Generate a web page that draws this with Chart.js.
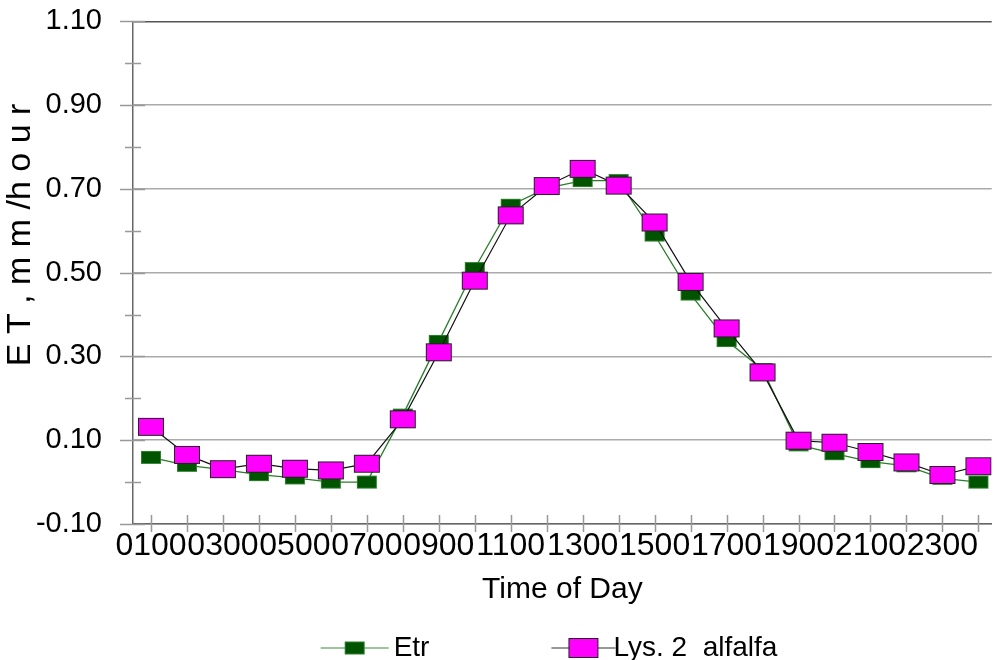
<!DOCTYPE html>
<html>
<head>
<meta charset="utf-8">
<script src="https://cdn.jsdelivr.net/npm/chart.js@4/dist/chart.umd.min.js"></script>
<style>
  html, body { margin: 0; padding: 0; background: #fff; }
  #wrap { width: 997px; height: 660px; }
</style>
</head>
<body>
<div id="wrap"><canvas id="grafico" width="997" height="660"></canvas></div>
<script>
// hours of the day, as printed on the x axis
const hours = ['0100', '0200', '0300', '0400', '0500', '0600', '0700', '0800',
  '0900', '1000', '1100', '1200', '1300', '1400', '1500', '1600',
  '1700', '1800', '1900', '2000', '2100', '2200', '2300', '2400'];

// ET, mm/hour
const etr = [0.059, 0.040, 0.030, 0.018, 0.010, 0.000, 0.000, 0.160,
  0.336, 0.510, 0.661, 0.702, 0.720, 0.720, 0.590, 0.449,
  0.338, 0.269, 0.089, 0.068, 0.049, 0.039, 0.009, 0.000];
const lys2 = [0.132, 0.065, 0.031, 0.044, 0.032, 0.028, 0.044, 0.150,
  0.310, 0.481, 0.637, 0.707, 0.748, 0.708, 0.620, 0.478,
  0.367, 0.262, 0.099, 0.094, 0.072, 0.047, 0.017, 0.038];

const yTicks = [-0.10, 0.10, 0.30, 0.50, 0.70, 0.90, 1.10];

// rectangular markers (the library only has square ones)
function rectMark(w, h, fill, stroke, lineLeft, lineRight, lineColor, shift) {
  const half = Math.max(lineLeft, lineRight) + Math.abs(shift) + 2;
  const c = document.createElement('canvas');
  c.width = lineLeft || lineRight ? half * 2 : w + 2;
  c.height = h + 2;
  const g = c.getContext('2d');
  const cx = c.width / 2 + shift;
  const cy = c.height / 2;
  if (lineLeft || lineRight) {
    g.strokeStyle = lineColor;
    g.lineWidth = 1.2;
    g.beginPath();
    g.moveTo(cx - lineLeft, cy);
    g.lineTo(cx + lineRight, cy);
    g.stroke();
  }
  g.fillStyle = fill;
  g.fillRect(Math.round(cx - w / 2), 1, w, h);
  g.strokeStyle = stroke;
  g.lineWidth = 1;
  g.strokeRect(Math.round(cx - w / 2) + 0.5, 1.5, w - 1, h - 1);
  return c;
}

const greenMark = rectMark(20, 13, '#005400', '#2f7f2f', 0, 0, '', 0);
const pinkMark = rectMark(26, 18, '#ff00ff', '#222', 0, 0, '', 0);
const greenLegend = rectMark(20, 13, '#005400', '#2f7f2f', 34, 34, '#3a8a3a', 55);
const pinkLegend = rectMark(30, 20, '#ff00ff', '#222', 32, 32, '#333', 64);

const crossTicks = {
  id: 'crossTicks',
  afterDraw(chart) {
    const {ctx, scales: {x, y}} = chart;
    ctx.save();
    ctx.strokeStyle = '#999';
    ctx.lineWidth = 1.5;
    ctx.beginPath();
    y.ticks.forEach(t => {
      const py = Math.round(y.getPixelForValue(t.value)) + 0.5;
      const major = Math.abs(Math.round(t.value * 10)) % 2 === 1;
      ctx.moveTo(y.right - (major ? 13 : 8), py);
      ctx.lineTo(y.right + (major ? 12 : 8), py);
    });
    x.ticks.forEach(t => {
      const px = Math.round(x.getPixelForValue(t.value)) + 0.5;
      ctx.moveTo(px, x.top - 9);
      ctx.lineTo(px, x.top + 8);
    });
    ctx.stroke();
    ctx.restore();
  }
};

const ctx = document.getElementById('grafico');

new Chart(ctx, {
  type: 'line',
  data: {
    datasets: [{
      label: 'Etr',
      data: etr.map((v, i) => ({x: i + 1, y: v})),
      borderColor: '#2a7d2a',
      borderWidth: 1.3,
      pointStyle: greenMark,
      legendMark: greenLegend,
      tension: 0,
      order: 1
    }, {
      label: 'Lys. 2  alfalfa',
      data: lys2.map((v, i) => ({x: i + 1, y: v})),
      borderColor: '#111',
      borderWidth: 1.2,
      pointStyle: pinkMark,
      legendMark: pinkLegend,
      tension: 0,
      order: 0
    }]
  },
  options: {
    responsive: false,
    animation: false,
    layout: {padding: {top: 0, left: 0, right: 0, bottom: -12}},
    font: {family: 'Liberation Sans, Arial, sans-serif'},
    plugins: {
      title: {display: false},
      tooltip: {enabled: false},
      legend: {
        position: 'bottom',
        align: 'center',
        labels: {
          color: '#000',
          font: {size: 28, family: 'Liberation Sans, Arial, sans-serif', lineHeight: 1},
          usePointStyle: true,
          pointStyleWidth: 160,
          padding: 10,
          generateLabels(chart) {
            return chart.data.datasets.map((ds, i) => ({
              text: ds.label,
              pointStyle: ds.legendMark,
              fillStyle: 'transparent',
              strokeStyle: 'transparent',
              lineWidth: 0,
              fontColor: '#000',
              datasetIndex: i
            }));
          }
        }
      }
    },
    scales: {
      x: {
        type: 'linear',
        min: 0.5,
        max: 24.37,
        afterBuildTicks(scale) {
          scale.ticks = hours.map((h, i) => ({value: i + 1}));
        },
        afterFit(scale) { scale.height = 100; },
        border: {display: true, color: '#666', width: 1.5},
        grid: {display: false},
        ticks: {
          autoSkip: false,
          maxRotation: 0,
          padding: -5,
          color: '#000',
          font: {size: 32, family: 'Liberation Sans, Arial, sans-serif'},
          callback: v => (v % 2 === 1 ? hours[v - 1] : '')
        },
        title: {
          display: true,
          text: 'Time of Day',
          color: '#000',
          font: {size: 30, family: 'Liberation Sans, Arial, sans-serif'},
          padding: {top: 0, bottom: 16}
        }
      },
      y: {
        min: -0.1,
        max: 1.1,
        afterBuildTicks(scale) {
          const t = [];
          for (let k = -1; k <= 11; k++) t.push({value: k / 10});
          scale.ticks = t;
        },
        afterFit(scale) { scale.width = 133; },
        border: {display: true, color: '#666', width: 1.5},
        grid: {
          drawTicks: true,
          tickLength: 27,
          tickColor: 'rgba(0,0,0,0)',
          color: c => {
            const k = Math.round(c.tick.value * 10);
            if (k === 11) return '#555';
            return yTicks.some(v => Math.round(v * 10) === k) ? '#aaa' : 'rgba(0,0,0,0)';
          },
          lineWidth: 1.5
        },
        ticks: {
          padding: 4,
          color: '#000',
          font: {size: 29, family: 'Liberation Sans, Arial, sans-serif'},
          callback: v => (yTicks.some(t => Math.abs(t - v) < 1e-6) ? v.toFixed(2) : '')
        },
        title: {
          display: true,
          text: '        E T , m m /h o u r',
          color: '#000',
          font: {size: 34, family: 'Liberation Sans, Arial, sans-serif'},
          padding: {top: 0, bottom: 0}
        }
      }
    }
  },
  plugins: [crossTicks]
});
</script>
</body>
</html>
